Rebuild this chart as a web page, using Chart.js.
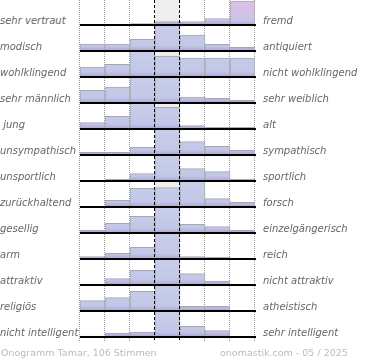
<!DOCTYPE html>
<html><head><meta charset="utf-8">
<script src="https://cdn.jsdelivr.net/npm/chart.js@4.4.1/dist/chart.umd.min.js"></script>
<style>
html,body{margin:0;padding:0;background:#fff;}
#wrap{position:relative;width:370px;height:360px;overflow:hidden;font-family:"DejaVu Sans",sans-serif;}
.lab{position:absolute;font-style:italic;font-size:10px;color:#666;line-height:12px;white-space:pre;}
canvas{position:absolute;}
.foot{position:absolute;top:347px;font-size:9.5px;color:#bbb;line-height:12px;white-space:pre;}
</style></head><body><div id="wrap"></div>
<script>
const leftTerms = ['sehr vertraut','modisch','wohlklingend','sehr männlich',' jung','unsympathisch','unsportlich','zurückhaltend','gesellig','arm','attraktiv','religiös','nicht intelligent'];
const rightTerms = ['fremd','antiquiert','nicht wohlklingend','sehr weiblich','alt','sympathisch','sportlich','forsch','einzelgängerisch','reich','nicht attraktiv','atheistisch','sehr intelligent'];
const columns = ['1','2','3','4','5','6','7'];
const votes = [
  [0, 0, 1.5, 3.5, 3.5, 6.5, 24],
  [7, 7, 11.7, 30, 16, 6.7, 3.7],
  [10, 12.7, 28, 21, 19, 19, 19],
  [12.7, 16, 28, 26, 6, 4.7, 2.7],
  [6.3, 12.7, 27, 21.7, 3.3, 1.7, 1.7],
  [2.7, 2.7, 7.7, 30, 13.3, 8.7, 4.7],
  [0, 2, 7.3, 30, 12.3, 9.3, 2],
  [0, 6.7, 18.7, 19.3, 26, 8.3, 4.7],
  [3, 9.7, 16.7, 32, 8.7, 6.3, 2.7],
  [2.3, 5.7, 11.7, 40, 2.3, 2, 1],
  [1, 6.3, 14.7, 30, 11.3, 4, 0.5],
  [10.3, 13.3, 19.7, 30, 4.7, 4.7, 0],
  [1, 4, 5, 32, 10.7, 6.3, 0.7]
];
const footLeft = 'Onogramm Tamar, 106 Stimmen';
const footRight = 'onomastik.com - 05 / 2025';

const ROW_H = 26, CAP = 25, MID = 3;
const wrap = document.getElementById('wrap');

const decor = {
  id: 'decor',
  beforeDatasetsDraw(chart) {
    const {ctx, chartArea: a, height} = chart;
    const w = a.width / columns.length;
    ctx.save();
    ctx.fillStyle = '#eeeeee';
    ctx.fillRect(a.left + MID * w, 0, w, a.bottom);
    ctx.strokeStyle = '#9a9a9a';
    ctx.lineWidth = 1;
    ctx.setLineDash([1, 1]);
    for (let k = 0; k <= columns.length; k++) {
      if (k === MID || k === MID + 1) continue;
      const x = Math.round(a.left + k * w) - 0.5;
      ctx.beginPath(); ctx.moveTo(x, 0); ctx.lineTo(x, height); ctx.stroke();
    }
    ctx.restore();
  },
  afterDatasetsDraw(chart) {
    const {ctx, chartArea: a, height} = chart;
    const w = a.width / columns.length;
    ctx.save();
    ctx.strokeStyle = '#000';
    ctx.lineWidth = 1;
    ctx.setLineDash([3, 2]);
    [MID, MID + 1].forEach(k => {
      const x = Math.round(a.left + k * w) - 0.5;
      ctx.beginPath(); ctx.moveTo(x, 0); ctx.lineTo(x, height); ctx.stroke();
    });
    ctx.setLineDash([]);
    ctx.lineWidth = 2;
    ctx.beginPath(); ctx.moveTo(a.left, a.bottom); ctx.lineTo(a.right + 1, a.bottom); ctx.stroke();
    ctx.restore();
  }
};

function barFill(c) {
  const chart = c.chart, a = chart.chartArea;
  if (!a) return '#c5cae9';
  const row = votes[chart.options.rowIndex];
  const maxV = Math.max(...row);
  const modeIdx = row.indexOf(maxV);
  const polar = (modeIdx === 0 || modeIdx === columns.length - 1) && c.dataIndex === modeIdx;
  const g = chart.ctx.createLinearGradient(0, a.top, 0, a.bottom);
  if (polar) {
    g.addColorStop(0, '#ddc0e3');
    g.addColorStop(0.55, '#d0c3e6');
    g.addColorStop(0.85, '#c3c6e7');
    g.addColorStop(1, '#aea3d6');
  } else {
    g.addColorStop(0, '#c8cdea');
    g.addColorStop(0.8, '#c2c7e7');
    g.addColorStop(1, '#aca2d5');
  }
  return g;
}

votes.forEach((row, i) => {
  const last = i === votes.length - 1;
  const ch = last ? 30 : ROW_H;
  const cv = document.createElement('canvas');
  cv.width = 180; cv.height = ch;
  cv.style.left = '78px'; cv.style.top = (i * ROW_H) + 'px';
  cv.style.width = '180px'; cv.style.height = ch + 'px';
  wrap.appendChild(cv);
  new Chart(cv, {
    type: 'bar',
    data: { labels: columns, datasets: [{
      data: row,
      backgroundColor: barFill,
      borderColor: '#a8a8a8',
      borderWidth: {top: 1, left: 1, right: 1, bottom: 0},
      borderSkipped: false,
      barPercentage: 1, categoryPercentage: 1
    }]},
    options: {
      rowIndex: i,
      responsive: false, animation: false, devicePixelRatio: 1,
      layout: { padding: {left: 2, right: 3, top: 0, bottom: ch - CAP} },
      scales: {
        x: { display: false },
        y: { display: false, min: 0, max: CAP }
      },
      plugins: { legend: {display: false}, tooltip: {enabled: false} }
    },
    plugins: [decor]
  });
  const l = document.createElement('div');
  l.className = 'lab'; l.textContent = leftTerms[i];
  l.style.left = '0px'; l.style.top = (i * ROW_H + 15) + 'px';
  wrap.appendChild(l);
  const r = document.createElement('div');
  r.className = 'lab'; r.textContent = rightTerms[i];
  r.style.left = '263px'; r.style.top = (i * ROW_H + 15) + 'px';
  wrap.appendChild(r);
});

const f1 = document.createElement('div');
f1.className = 'foot'; f1.textContent = footLeft; f1.style.left = '1px';
wrap.appendChild(f1);
const f2 = document.createElement('div');
f2.className = 'foot'; f2.textContent = footRight; f2.style.left = '220px';
wrap.appendChild(f2);
</script></body></html>
